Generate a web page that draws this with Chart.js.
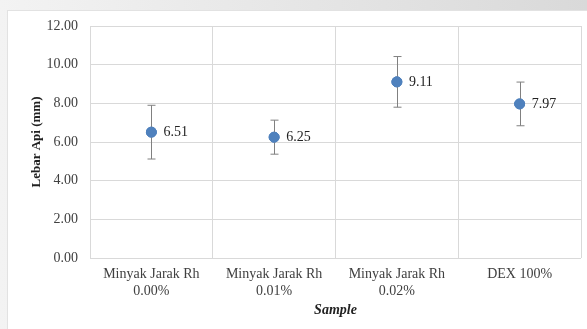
<!DOCTYPE html>
<html>
<head>
<meta charset="utf-8">
<script src="https://cdn.jsdelivr.net/npm/chart.js@4/dist/chart.umd.min.js"></script>
<style>
  html, body { margin: 0; padding: 0; }
  body {
    width: 587px; height: 329px; overflow: hidden; position: relative;
    background: linear-gradient(to right, #f3f3f3, #d9d9d9);
  }
  #box {
    position: absolute; left: 7px; top: 10px; width: 580px; height: 319px;
    background: #fff; border-left: 1px solid #e2e2e2; border-top: 1px solid #e2e2e2;
    box-sizing: border-box;
  }
  canvas { position: absolute; left: 0; top: 0; }
</style>
</head>
<body>
<div id="box"><canvas id="chart" width="579" height="318"></canvas></div>
<script>
const categories = [
  ["Minyak Jarak Rh", "0.00%"],
  ["Minyak Jarak Rh", "0.01%"],
  ["Minyak Jarak Rh", "0.02%"],
  ["DEX 100%"]
];
const means = [6.51, 6.25, 9.11, 7.97];
const errors = [1.39, 0.88, 1.31, 1.13];
const yTicks = [0, 2, 4, 6, 8, 10, 12];

const textColor = "#404040";
const serif = "'Liberation Serif', 'Times New Roman', serif";

// error bars + value labels drawn through the scales
const errorBars = {
  id: "errorBars",
  afterDatasetsDraw(chart) {
    const ctx = chart.ctx;
    const x = chart.scales.x, y = chart.scales.y;
    ctx.save();
    ctx.strokeStyle = "#808080";
    ctx.lineWidth = 1;
    means.forEach((m, i) => {
      const px = Math.round(x.getPixelForValue(i)) + 0.5;
      const top = y.getPixelForValue(m + errors[i]);
      const bot = y.getPixelForValue(m - errors[i]);
      ctx.beginPath();
      ctx.moveTo(px, top); ctx.lineTo(px, bot);
      ctx.moveTo(px - 4, top); ctx.lineTo(px + 4, top);
      ctx.moveTo(px - 4, bot); ctx.lineTo(px + 4, bot);
      ctx.stroke();
    });
    // redraw points on top of bars
    chart.getDatasetMeta(0).data.forEach(p => p.draw(ctx));
    ctx.fillStyle = "#222";
    ctx.font = "14px " + serif;
    ctx.textBaseline = "middle";
    means.forEach((m, i) => {
      ctx.fillText(m.toFixed(2), x.getPixelForValue(i) + 12, y.getPixelForValue(m));
    });
    ctx.restore();
  }
};

new Chart(document.getElementById("chart"), {
  type: "line",
  data: {
    labels: categories,
    datasets: [{
      data: means,
      showLine: false,
      pointRadius: 5,
      pointHoverRadius: 5,
      pointBackgroundColor: "#4F81BD",
      pointBorderColor: "#4F81BD"
    }]
  },
  options: {
    responsive: false,
    animation: false,
    layout: { padding: { top: 15, right: 4, left: 0, bottom: 0 } },
    plugins: { legend: { display: false }, tooltip: { enabled: false } },
    scales: {
      x: {
        offset: true,
        grid: { color: "#d9d9d9", offset: true, drawTicks: false },
        border: { display: false },
        ticks: { color: textColor, font: { family: serif, size: 14 }, padding: 8, maxRotation: 0 },
        title: {
          display: true, text: "Sample", color: "#222",
          font: { family: serif, size: 14, weight: "bold", style: "italic" },
          padding: { top: 0, bottom: 10 }
        },
        afterFit(s) { s.height = 71; s.paddingLeft = 0; s.paddingRight = 0; }
      },
      y: {
        min: 0, max: 12,
        afterBuildTicks(s) { s.ticks = yTicks.map(v => ({ value: v })); },
        grid: { color: "#d9d9d9", drawTicks: false },
        border: { display: false },
        ticks: { color: textColor, font: { family: serif, size: 14 }, padding: 12,
                 callback: v => v.toFixed(2) },
        title: {
          display: true, text: "Lebar Api (mm)", color: "#222",
          font: { family: serif, size: 13, weight: "bold" },
          padding: { top: 21, bottom: 0 }
        },
        afterFit(s) { s.width = 82; s.paddingTop = 0; s.paddingBottom = 0; }
      }
    }
  },
  plugins: [errorBars]
});
</script>
</body>
</html>
